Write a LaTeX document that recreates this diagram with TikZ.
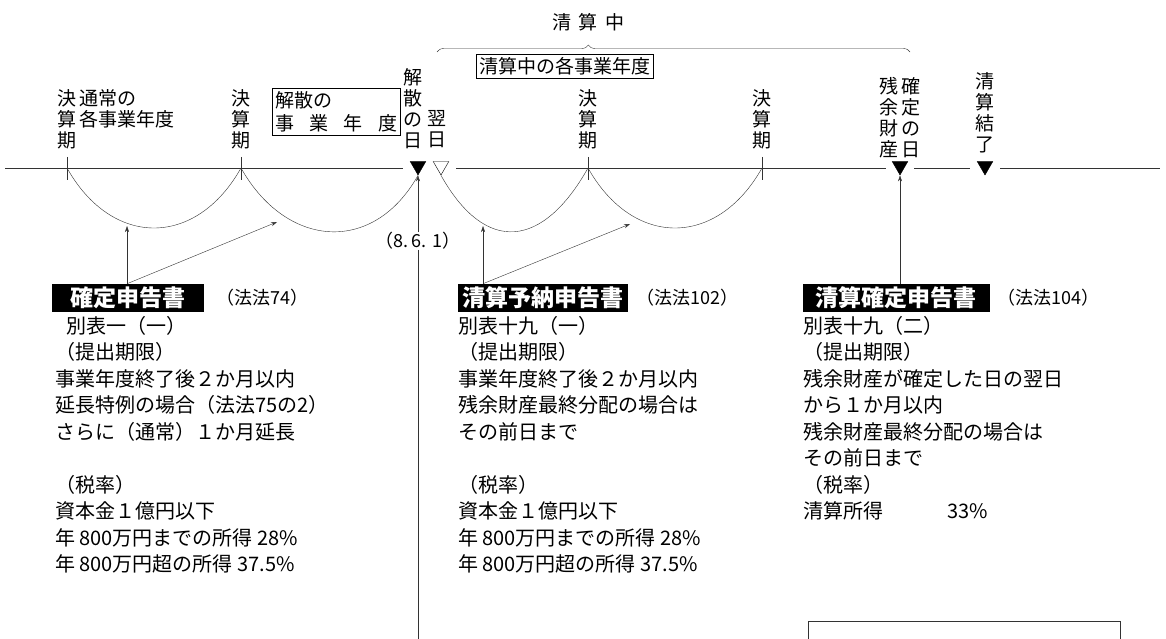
\documentclass[tikz,border=0pt]{standalone}
\usepackage{fontspec}
\newfontfamily\jp{Noto Sans CJK JP}
\usetikzlibrary{positioning,shapes.geometric,decorations.pathreplacing,arrows.meta}
\tikzset{
  vlab/.style={font=\jp\fontsize{19}{21}\selectfont,align=center,inner sep=0pt},
  body/.style={font=\jp\fontsize{20}{26.5}\selectfont,align=left,anchor=north west,inner sep=0pt},
  blackbox/.style={fill=black,text=white,font=\jp\bfseries\fontsize{23}{25}\selectfont,inner xsep=4pt,inner ysep=3pt},
  lawref/.style={font=\jp\fontsize{18}{20}\selectfont,inner sep=0pt},
  framebox/.style={draw,thin,font=\jp\fontsize{19}{23}\selectfont,inner sep=3pt},
  dtri/.style={regular polygon,regular polygon sides=3,shape border rotate=180,minimum size=18pt,inner sep=0pt,draw,thin},
}
\begin{document}
\begin{tikzpicture}[x=1pt,y=-1pt,thin,>={Stealth[length=6pt,width=4pt]},line/.style={black!80}]
\useasboundingbox (0,0) rectangle (1166,639);
% liquidation period
\node[vlab] (sc) at (588,22) {\makebox[72pt]{清\hfill 算\hfill 中}};
\draw[line,decorate,decoration={brace,amplitude=7pt,aspect=0.32}] (437,52) -- (910,52);
\node[framebox] (cy) at (565,66) {清算中の各事業年度};
% labels over the time line
\node[vlab] (k1) at (67,119) {決\\算\\期};
\node[vlab,align=left,anchor=west] (tsu) at (79,108.5) {通常の\\各事業年度};
\node[vlab] (k2) at (241,119) {決\\算\\期};
\node[framebox,align=left,text width=122pt,minimum height=46pt] (kj) at (336,111.5) {解散の\\\makebox[122pt]{事\hfill 業\hfill 年\hfill 度}};
\node[vlab] (kd) at (413,108.5) {解\\散\\の\\日};
\node[vlab] (yk) at (437,129.5) {翌\\日};
\node[vlab] (k3) at (588,119) {決\\算\\期};
\node[vlab] (k4) at (762,119) {決\\算\\期};
\node[vlab] (zy) at (889,117.5) {残\\余\\財\\産};
\node[vlab] (kt2) at (911,117.5) {確\\定\\の\\日};
\node[vlab] (ke) at (985,113) {清\\算\\結\\了};
% time line
\node[dtri,fill=black] (m1) at (418,166) {};
\node[dtri,fill=white] (m2) at (441,166) {};
\node[dtri,fill=black] (m3) at (900,166) {};
\node[dtri,fill=black] (m4) at (985,166) {};
\draw[line] (5,168) -- (403,168);
\draw[line] (456,168) -- (886,168);
\draw[line] (914,168) -- (970,168);
\draw[line] (1000,168) -- (1160,168);
\foreach \x in {67,241,588,762} \draw[line] (\x,157) -- (\x,180);
\draw[line] (67,168) .. controls +(45,80) and +(-45,80) .. (241,168);
\draw[line] (241,168) .. controls +(45,80) and +(-45,80) .. (m1.south);
\draw[line] (m2.south) .. controls +(45,80) and +(-45,80) .. (588,168);
\draw[line] (588,168) .. controls +(45,80) and +(-45,80) .. (762,168);
% returns
\node[blackbox,minimum width=152pt] (kt) at (128,298) {確定申告書};
\node[lawref,right=12pt of kt] (h74) {（法法74）};
\node[body] (b1) at (55,316) {\hspace*{11pt}別表一（一）\\（提出期限）\\事業年度終了後２か月以内\\延長特例の場合（法法75の2）\\さらに（通常）１か月延長\\[26.5pt]（税率）\\資本金１億円以下\\年 800万円までの所得 28\%\\年 800万円超の所得 37.5\%};
\node[blackbox,minimum width=170pt] (sy) at (543,298) {清算予納申告書};
\node[lawref,right=8pt of sy] (h102) {（法法102）};
\node[body] (b2) at (458,316) {別表十九（一）\\（提出期限）\\事業年度終了後２か月以内\\残余財産最終分配の場合は\\その前日まで\\[26.5pt]（税率）\\資本金１億円以下\\年 800万円までの所得 28\%\\年 800万円超の所得 37.5\%};
\node[blackbox,minimum width=187pt] (sk) at (896,298) {清算確定申告書};
\node[lawref,right=8pt of sk] (h104) {（法法104）};
\node[body] (b3) at (803,316) {別表十九（二）\\（提出期限）\\残余財産が確定した日の翌日\\から１か月以内\\残余財産最終分配の場合は\\その前日まで\\（税率）\\清算所得\hspace{64pt}33\%};
% arrows
\coordinate (a1) at (127,226);
\coordinate (a2) at (277,222);
\coordinate (a3) at (483,226);
\coordinate (a4) at (630,224);
\coordinate (bot) at (418,639);
\draw[line,->] (kt.north -| a1) -- (a1);
\draw[line,->] (kt.north -| a1) -- (a2);
\draw[line,->] (sy.north -| a3) -- (a3);
\draw[line,->] (sy.north -| a3) -- (a4);
\draw[line,->] (sk.north -| m3) -- (m3.south);
\node[lawref] (dt) at (418,241) {（8.\,6.\,\,1）};
\draw[line,->] (dt.north) -- (m1.south);
\draw[line] (dt.south) -- (dt.south |- bot);
\draw[line] (808,645) -- (808,621) -- (1120,621) -- (1120,645);
\end{tikzpicture}
\end{document}
